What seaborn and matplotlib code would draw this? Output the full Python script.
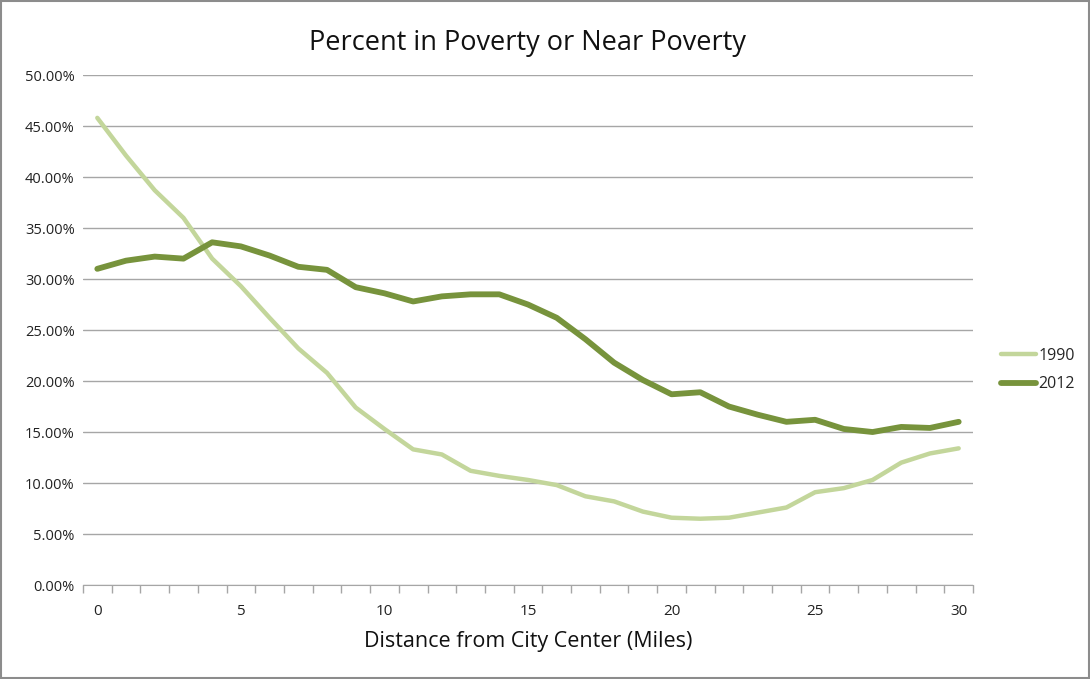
import numpy as np
import pandas as pd
import matplotlib
matplotlib.use('Agg')
import matplotlib.pyplot as plt
from matplotlib.ticker import PercentFormatter, MultipleLocator
import seaborn as sns

DISTANCE = list(range(0, 31))
POV_1990 = [45.8, 42.1, 38.7, 36.0, 32.0, 29.3, 26.2, 23.2, 20.8, 17.4,
            15.3, 13.3, 12.8, 11.2, 10.7, 10.3, 9.8, 8.7, 8.2, 7.2,
            6.6, 6.5, 6.6, 7.1, 7.6, 9.1, 9.5, 10.3, 12.0, 12.9, 13.4]
POV_2012 = [31.0, 31.8, 32.2, 32.0, 33.6, 33.2, 32.3, 31.2, 30.9, 29.2,
            28.6, 27.8, 28.3, 28.5, 28.5, 27.5, 26.2, 24.1, 21.8, 20.1,
            18.7, 18.9, 17.5, 16.7, 16.0, 16.2, 15.3, 15.0, 15.5, 15.4, 16.0]
YEARS = ['1990', '2012']
COLORS = {'1990': '#c3d69b', '2012': '#77933c'}

sns.set_style('white')
plt.rcParams['font.family'] = ['Open Sans', 'DejaVu Sans']

df = pd.DataFrame({'distance': DISTANCE * 2,
                   'pct': POV_1990 + POV_2012,
                   'year': ['1990'] * len(DISTANCE) + ['2012'] * len(DISTANCE)})

fig = plt.figure(figsize=(10.9, 6.79), dpi=100)
ax = fig.add_axes([0.0761, 0.1384, 0.8166, 0.7511])

sns.lineplot(data=df, x='distance', y='pct', hue='year', palette=COLORS,
             hue_order=YEARS, ax=ax, legend=False)
for line, lw in zip(ax.lines, [3.2, 4.2]):
    line.set_linewidth(lw)
    line.set_solid_capstyle('round')
    line.set_solid_joinstyle('round')

ax.set_xlim(-0.5, 30.5)
ax.set_ylim(0, 50)
ax.yaxis.set_major_locator(MultipleLocator(5))
ax.yaxis.set_major_formatter(PercentFormatter(decimals=2))
ax.set_xticks([0, 5, 10, 15, 20, 25, 30])
ax.set_xticks(np.arange(-0.5, 31, 1), minor=True)
ax.tick_params(axis='x', which='major', bottom=True, length=0, pad=14, labelsize=11, colors='#222222')
ax.tick_params(axis='x', which='minor', bottom=True, length=6, color='#a6a6a6', width=1)
ax.tick_params(axis='y', length=0, pad=6, labelsize=10.5, colors='#222222')
ax.grid(axis='y', color='#a6a6a6', linewidth=1)
for side in ['top', 'right', 'left']:
    ax.spines[side].set_visible(False)
ax.spines['bottom'].set_color('#a6a6a6')

ax.set_title('Percent in Poverty or Near Poverty', fontsize=19.5, pad=18, color='#111111')
ax.set_xlabel('Distance from City Center (Miles)', fontsize=15.5, labelpad=8, color='#111111')
ax.set_ylabel('')

handles = [plt.Line2D([], [], color=COLORS[y], lw=lw) for y, lw in zip(YEARS, [3.2, 4.2])]
fig.legend(handles, YEARS, loc='center left', bbox_to_anchor=(0.905, 0.455),
           frameon=False, fontsize=11.5, handlelength=2.2, handletextpad=0.15, labelspacing=0.8)

fig.patches.append(plt.Rectangle((0.001, 0.001), 0.998, 0.998, transform=fig.transFigure,
                                 fill=False, edgecolor='#8c8c8c', linewidth=1.5))

plt.savefig('out.png', dpi=100)
plt.close()
